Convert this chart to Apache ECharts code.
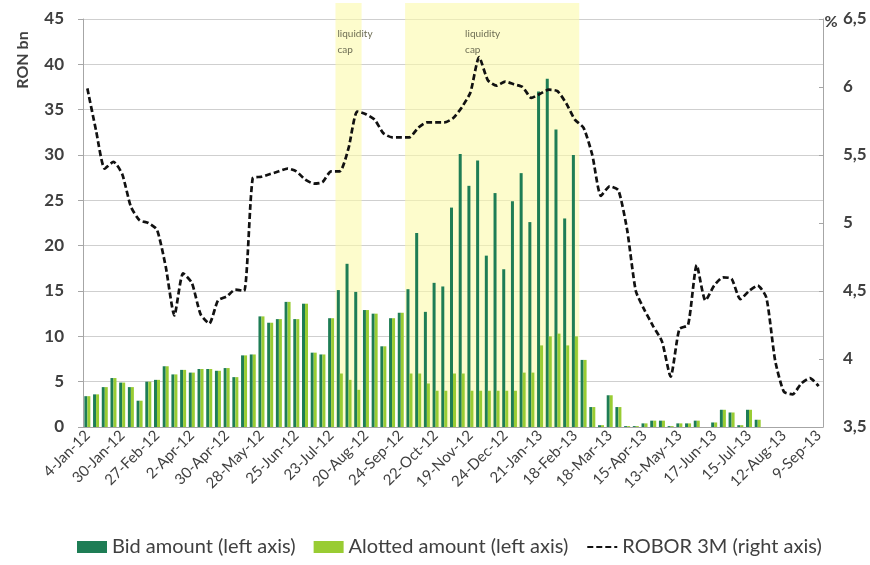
<!DOCTYPE html>
<html lang="en">
<head>
    <meta charset="UTF-8">
    <title>Repo auctions and ROBOR 3M</title>
    <script src="https://cdn.jsdelivr.net/npm/echarts@6/dist/echarts.min.js"></script>
</head>
<style>
    html, body {
        margin: 0;
        padding: 0;
        background: #ffffff;
    }

    #chart {
        width: 870px;
        height: 565px;
    }
</style>
<body>
<div id="chart"></div>
<script type="text/javascript">
    // labels shown on every 4th auction
    const tickLabels = ['4-Jan-12', '30-Jan-12', '27-Feb-12', '2-Apr-12', '30-Apr-12', '28-May-12', '25-Jun-12',
        '23-Jul-12', '20-Aug-12', '24-Sep-12', '22-Oct-12', '19-Nov-12', '24-Dec-12', '21-Jan-13', '18-Feb-13',
        '18-Mar-13', '15-Apr-13', '13-May-13', '17-Jun-13', '15-Jul-13', '12-Aug-13', '9-Sep-13'];

    // RON bn
    const bidAmount = [
        3.4, 3.6, 4.4, 5.4, 4.9, 4.4, 2.9, 5.0, 5.2, 6.7,
        5.8, 6.3, 6.0, 6.4, 6.4, 6.2, 6.5, 5.5, 7.9, 8.0,
        12.2, 11.5, 11.9, 13.8, 11.9, 13.6, 8.2, 8.0, 12.0, 15.1,
        18.0, 14.9, 12.9, 12.5, 8.9, 12.0, 12.6, 15.2, 21.4, 12.7,
        15.9, 15.5, 24.2, 30.1, 26.6, 29.4, 18.9, 25.8, 17.4, 24.9,
        28.0, 22.6, 37.0, 38.4, 32.8, 23.0, 30.0, 7.4, 2.2, 0.2,
        3.5, 2.2, 0.1, 0.1, 0.4, 0.7, 0.7, 0.1, 0.4, 0.4,
        0.7, 0.0, 0.5, 1.9, 1.6, 0.2, 1.9, 0.8, null, null,
        null, null, null, null, null];

    const allottedAmount = [
        3.4, 3.6, 4.4, 5.4, 4.9, 4.4, 2.9, 5.0, 5.2, 6.7,
        5.8, 6.3, 6.0, 6.4, 6.4, 6.2, 6.5, 5.5, 7.9, 8.0,
        12.2, 11.5, 11.9, 13.8, 11.9, 13.6, 8.2, 8.0, 12.0, 5.9,
        5.2, 4.1, 12.9, 12.5, 8.9, 12.0, 12.6, 5.9, 5.9, 4.8,
        4.0, 4.0, 5.9, 5.9, 4.0, 4.0, 4.0, 4.0, 4.0, 4.0,
        6.0, 6.0, 9.0, 10.0, 10.3, 9.0, 10.0, 7.4, 2.2, 0.2,
        3.5, 2.2, 0.1, 0.1, 0.4, 0.7, 0.7, 0.1, 0.4, 0.4,
        0.7, 0.0, 0.5, 1.9, 1.6, 0.2, 1.9, 0.8, null, null,
        null, null, null, null, null];

    // %
    const robor3m = [
        5.99, 5.68, 5.40, 5.45, 5.36, 5.12, 5.02, 5.00, 4.95, 4.68,
        4.32, 4.63, 4.56, 4.33, 4.26, 4.43, 4.46, 4.51, 4.50, 5.33,
        5.34, 5.36, 5.38, 5.40, 5.38, 5.32, 5.29, 5.30, 5.38, 5.38,
        5.55, 5.82, 5.80, 5.76, 5.66, 5.63, 5.63, 5.63, 5.70, 5.74,
        5.74, 5.74, 5.77, 5.85, 5.96, 6.22, 6.05, 6.01, 6.04, 6.02,
        6.00, 5.92, 5.95, 5.98, 5.97, 5.88, 5.76, 5.70, 5.50, 5.20,
        5.27, 5.24, 4.95, 4.50, 4.36, 4.24, 4.13, 3.87, 4.22, 4.25,
        4.69, 4.43, 4.54, 4.60, 4.59, 4.44, 4.50, 4.54, 4.45, 3.99,
        3.76, 3.74, 3.82, 3.86, 3.80];

    // first and last auction index of each liquidity cap period
    const capPeriods = [[29, 31], [37, 56]];

    const categories = bidAmount.map((v, i) => (i % 4 === 0 ? tickLabels[i / 4] : ''));

    const font = 'Lato, "Open Sans", sans-serif';
    const txt = '#404040';
    const axisGrey = '#a6a6a6';

    let myChart = echarts.init(document.getElementById('chart'), null, {renderer: 'canvas'});

    let option = {
        animation: false,
        textStyle: {fontFamily: font},
        grid: [
            {left: 83, right: 47, top: 19, bottom: 138},
            {left: 83, right: 47, top: 3, bottom: 138}  // only for the shaded periods
        ],
        legend: {
            left: 72,
            bottom: 3,
            itemWidth: 30,
            itemHeight: 12,
            itemGap: 18,
            textStyle: {fontSize: 20, color: txt, fontFamily: font},
            data: [
                {name: 'Bid amount (left axis)', icon: 'rect'},
                {name: 'Alotted amount (left axis)', icon: 'rect'},
                {name: 'ROBOR 3M (right axis)', itemStyle: {opacity: 0}}
            ]
        },
        graphic: [
            {
                type: 'text',
                x: 23,
                y: 60,
                rotation: Math.PI / 2,
                style: {
                    text: 'RON bn',
                    fill: txt,
                    font: 'bold 16px ' + font,
                    textAlign: 'center',
                    textVerticalAlign: 'middle'
                }
            },
            {
                type: 'text',
                x: 831,
                y: 22,
                style: {
                    text: '%',
                    fill: txt,
                    font: 'bold 16px ' + font,
                    textAlign: 'center',
                    textVerticalAlign: 'middle'
                }
            }
        ],
        xAxis: [
            {
                type: 'category',
                gridIndex: 0,
                data: categories,
                boundaryGap: true,
                axisLine: {lineStyle: {color: axisGrey}},
                axisTick: {interval: 3, length: 5, lineStyle: {color: axisGrey}},
                axisLabel: {interval: 3, rotate: 45, fontSize: 15, color: txt, margin: 6, fontFamily: font}
            },
            {
                type: 'value',
                gridIndex: 1,
                min: -0.5,
                max: categories.length - 0.5,
                show: false
            }
        ],
        yAxis: [
            {
                type: 'value',
                gridIndex: 0,
                min: 0,
                max: 45,
                interval: 5,
                axisLine: {show: true, lineStyle: {color: axisGrey}},
                axisTick: {show: true, length: 5, lineStyle: {color: axisGrey}},
                axisLabel: {fontSize: 17, fontWeight: 'bold', color: txt, margin: 19, fontFamily: font},
                splitLine: {lineStyle: {color: '#cfcfcf'}}
            },
            {
                type: 'value',
                gridIndex: 0,
                position: 'right',
                min: 3.5,
                max: 6.5,
                interval: 0.5,
                axisLine: {show: true, lineStyle: {color: axisGrey}},
                axisTick: {show: true, inside: true, length: 4, lineStyle: {color: axisGrey}},
                axisLabel: {
                    fontSize: 17, fontWeight: 'bold', color: txt, margin: 20, fontFamily: font,
                    formatter: (v) => String(v).replace('.', ',')
                },
                splitLine: {show: false}
            },
            {
                type: 'value',
                gridIndex: 1,
                min: 0,
                max: 1,
                show: false
            }
        ],
        series: [
            {
                name: 'Bid amount (left axis)',
                type: 'bar',
                xAxisIndex: 0,
                yAxisIndex: 0,
                data: bidAmount,
                barWidth: 3,
                barGap: '0%',
                itemStyle: {color: '#1e7d55'}
            },
            {
                name: 'Alotted amount (left axis)',
                type: 'bar',
                xAxisIndex: 0,
                yAxisIndex: 0,
                data: allottedAmount,
                barWidth: 3,
                barGap: '0%',
                itemStyle: {color: '#99cc33'}
            },
            {
                name: 'ROBOR 3M (right axis)',
                type: 'line',
                xAxisIndex: 0,
                yAxisIndex: 1,
                data: robor3m,
                symbol: 'none',
                smooth: 0.2,
                z: 5,
                lineStyle: {color: '#111111', width: 2.7, type: [6, 3]},
                itemStyle: {color: '#111111'}
            },
            {
                name: 'liquidity cap',
                type: 'line',
                xAxisIndex: 1,
                yAxisIndex: 2,
                data: [],
                markArea: {
                    silent: true,
                    itemStyle: {color: 'rgba(252, 250, 170, 0.6)'},
                    label: {
                        show: true,
                        position: 'insideTopLeft',
                        formatter: 'liquidity\ncap',
                        fontSize: 10,
                        lineHeight: 16,
                        color: '#6e6e55',
                        fontFamily: font
                    },
                    data: capPeriods.map((p, i) => [
                        {xAxis: p[0] - 0.5, label: {offset: i === 0 ? [-3, 18] : [55, 18]}},
                        {xAxis: p[1] + 0.5}
                    ])
                }
            }
        ]
    };

    myChart.setOption(option, true);
</script>
</body>
</html>
